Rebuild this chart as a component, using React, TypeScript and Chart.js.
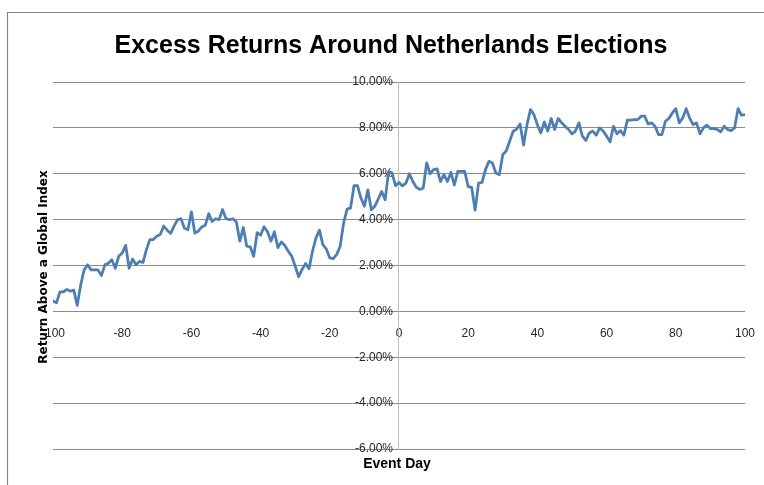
import React, { useEffect, useRef } from "react";
import { Chart, registerables } from "chart.js";

Chart.register(...registerables);

const TITLE = "Excess Returns Around Netherlands Elections";
const X_TITLE = "Event Day";
const Y_TITLE = "Return Above a Global Index";

const FIRST_DAY = -100;
const X_TICKS = [-100, -80, -60, -40, -20, 0, 20, 40, 60, 80, 100];
const Y_TICKS = [-6, -4, -2, 0, 2, 4, 6, 8, 10];

// excess return (%) for event days -100 .. 100
const RETURNS: number[] = [
  0.46, 0.37, 0.85, 0.85, 0.96, 0.88, 0.93, 0.26, 1.15, 1.81,
  2.03, 1.81, 1.81, 1.81, 1.56, 2.03, 2.10, 2.25, 1.88, 2.40,
  2.54, 2.88, 1.88, 2.28, 2.03, 2.18, 2.13, 2.69, 3.13, 3.13,
  3.28, 3.35, 3.72, 3.54, 3.40, 3.72, 4.00, 4.04, 3.62, 3.56,
  4.34, 3.41, 3.50, 3.68, 3.75, 4.26, 3.92, 4.04, 4.00, 4.44,
  4.04, 4.00, 4.04, 3.90, 3.06, 3.66, 2.84, 2.81, 2.40, 3.43,
  3.32, 3.69, 3.47, 3.06, 3.47, 2.78, 3.03, 2.87, 2.62, 2.41,
  1.97, 1.51, 1.83, 2.09, 1.86, 2.62, 3.20, 3.54, 2.91, 2.72,
  2.33, 2.30, 2.48, 2.84, 3.86, 4.46, 4.51, 5.48, 5.48, 4.94,
  4.58, 5.30, 4.43, 4.58, 4.90, 5.23, 4.87, 6.10, 6.03, 5.48,
  5.62, 5.47, 5.59, 6.00, 5.66, 5.41, 5.32, 5.37, 6.47, 6.00,
  6.18, 6.21, 5.66, 5.96, 5.66, 6.06, 5.51, 6.10, 6.10, 6.10,
  5.44, 5.41, 4.41, 5.59, 5.62, 6.18, 6.54, 6.47, 6.03, 5.96,
  6.84, 6.99, 7.43, 7.85, 7.95, 8.17, 7.25, 8.14, 8.80, 8.58,
  8.14, 7.78, 8.26, 7.86, 8.41, 7.93, 8.41, 8.22, 8.07, 7.93,
  7.74, 7.86, 8.22, 7.64, 7.45, 7.78, 7.86, 7.68, 8.00, 7.86,
  7.64, 7.39, 8.07, 7.74, 7.88, 7.68, 8.34, 8.34, 8.36, 8.36,
  8.51, 8.51, 8.17, 8.22, 8.07, 7.71, 7.71, 8.29, 8.41, 8.65,
  8.84, 8.22, 8.43, 8.84, 8.43, 8.14, 8.22, 7.74, 8.00, 8.12,
  7.97, 7.97, 7.93, 7.83, 8.07, 7.93, 7.88, 8.00, 8.84, 8.55,
  8.58,
];

const DAYS = RETURNS.map((_, i) => FIRST_DAY + i);

const W = 764;
const H = 485;
const CANVAS_W = 770; // slightly wider than the window; the overflow is hidden
const TICK_FONT = '12px "Liberation Sans", sans-serif';
const TICK_COLOR = "#262626";

const decor = {
  id: "decor",
  beforeDatasetsDraw(chart: any) {
    // y tick labels, right-aligned just left of the y axis (which sits at x = 0)
    const ctx = chart.ctx as CanvasRenderingContext2D;
    const xs = chart.scales.x;
    const ys = chart.scales.y;
    const x0 = xs.getPixelForValue(0);
    ctx.save();
    ctx.font = TICK_FONT;
    ctx.fillStyle = TICK_COLOR;
    ctx.textAlign = "right";
    ctx.textBaseline = "middle";
    Y_TICKS.forEach((v) => {
      ctx.fillText(v.toFixed(2) + "%", x0 - 6, ys.getPixelForValue(v));
    });
    ctx.restore();
  },
  afterDraw(chart: any) {
    const ctx = chart.ctx as CanvasRenderingContext2D;
    ctx.save();
    // outer chart border
    ctx.strokeStyle = "#868686";
    ctx.lineWidth = 1.2;
    ctx.beginPath();
    ctx.moveTo(7.5, H);
    ctx.lineTo(7.5, 12.5);
    ctx.lineTo(CANVAS_W, 12.5);
    ctx.stroke();

    ctx.fillStyle = "#000";
    ctx.textAlign = "center";
    ctx.textBaseline = "alphabetic";
    ctx.font = 'bold 25px "Liberation Sans Narrow", "Liberation Sans", sans-serif';
    ctx.fillText(TITLE, 391, 53);

    ctx.font = 'bold 14px "Liberation Sans", sans-serif';
    ctx.fillText(X_TITLE, 397, 468);

    ctx.translate(47, 267);
    ctx.rotate(-Math.PI / 2);
    ctx.font = 'bold 12px "DejaVu Sans", sans-serif';
    ctx.fillText(Y_TITLE, 0, 0);
    ctx.restore();
  },
};

export default function App() {
  const ref = useRef<HTMLCanvasElement | null>(null);

  useEffect(() => {
    if (!ref.current) return;
    const chart = new Chart(ref.current, {
      type: "line",
      data: {
        datasets: [
          {
            data: DAYS.map((d, i) => ({ x: d, y: RETURNS[i] })),
            borderColor: "#4a7ebb",
            borderWidth: 2.75,
            pointRadius: 0,
            tension: 0,
            borderJoinStyle: "round",
            borderCapStyle: "round",
          },
        ],
      },
      options: {
        responsive: false,
        animation: false,
        devicePixelRatio: 1,
        layout: { autoPadding: false, padding: { left: 53, right: 19, top: 82, bottom: 36 } },
        plugins: {
          legend: { display: false },
          title: { display: false },
          tooltip: { enabled: false },
        },
        scales: {
          x: {
            type: "linear",
            min: -100,
            max: 100,
            position: { y: 0 } as any,
            afterBuildTicks: (s: any) => {
              s.ticks = X_TICKS.map((v) => ({ value: v }));
            },
            grid: { display: false, drawTicks: false },
            border: { display: true, color: "#8c8c8c", width: 1 },
            ticks: {
              padding: 15,
              maxRotation: 0,
              autoSkip: false,
              color: TICK_COLOR,
              font: { family: '"Liberation Sans", sans-serif', size: 12 },
            },
          },
          y: {
            type: "linear",
            min: -6,
            max: 10,
            position: { x: 0 } as any,
            afterBuildTicks: (s: any) => {
              s.ticks = Y_TICKS.map((v) => ({ value: v }));
            },
            grid: { color: "#8c8c8c", lineWidth: 1, drawTicks: false },
            border: { display: true, color: "#bdbdbd", width: 1 },
            ticks: { display: false },
          },
        },
      },
      plugins: [decor],
    });
    return () => chart.destroy();
  }, []);

  return (
    <div
      style={{
        position: "absolute",
        left: 0,
        top: 0,
        width: W,
        height: H,
        overflow: "hidden",
        background: "#fff",
      }}
    >
      <canvas ref={ref} width={CANVAS_W} height={H} style={{ display: "block" }} />
    </div>
  );
}
